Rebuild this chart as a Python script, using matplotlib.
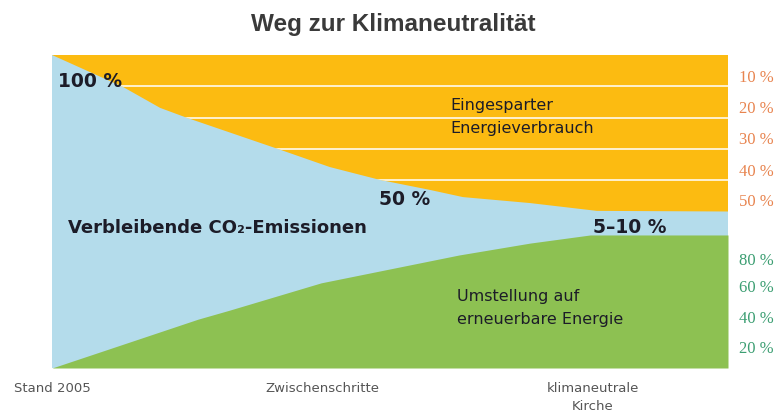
import numpy as np
import matplotlib
matplotlib.use("Agg")
import matplotlib.pyplot as plt
from matplotlib.patches import Polygon

# boundary between saved energy (orange) and remaining emissions (blue)
top_x = [0, 10.5, 16.0, 20.0, 33.4, 41.1, 48.5, 55.9, 60.8, 70.7, 80.6, 100]
top_y = [100, 89.8, 83.1, 79.9, 70.0, 64.2, 60.1, 56.9, 54.6, 52.7, 50.2, 50]

# boundary between renewable energy (green) and remaining emissions (blue)
green_x = [0, 11.5, 21.6, 26.3, 39.8, 60.2, 70.7, 79.6, 100]
green_y = [0, 8.3, 15.6, 18.5, 27.2, 36.1, 39.9, 42.5, 42.5]

saved_levels = [90, 80, 70, 60]
saved_labels = ["10 %", "20 %", "30 %", "40 %", "50 %"]
saved_label_y = [92.7, 82.7, 72.7, 62.7, 53.0]
green_labels = ["80 %", "60 %", "40 %", "20 %"]
green_label_y = [34.2, 25.4, 15.6, 6.0]

steps = ["Stand 2005", "Zwischenschritte", "klimaneutrale\nKirche"]
step_x = [0, 40, 80]

c_orange = "#FCBB11"
c_blue = "#B4DCEB"
c_green = "#8DC152"
c_dark = "#1c1c28"

fig = plt.figure(figsize=(7.78, 4.17), dpi=100)
ax = fig.add_axes([52/778, 49/417, 676/778, 313/417])

ax.fill_between([0, 100], 0, 100, color=c_blue, lw=0)
orange = Polygon(list(zip(top_x, top_y)) + [(100, 100), (0, 100)],
                 closed=True, facecolor=c_orange, edgecolor="none")
ax.add_patch(orange)
ax.fill_between(green_x, 0, green_y, color=c_green, lw=0)

lines = ax.hlines(saved_levels, 0, 100, colors="white", lw=1.3, alpha=0.85)
lines.set_clip_path(orange)

ax.set_xlim(0, 100)
ax.set_ylim(0, 100)
for s in ax.spines.values():
    s.set_visible(False)
ax.set_yticks([])
ax.set_xticks(step_x)
ax.set_xticklabels(steps, family=["Liberation Sans Narrow", "DejaVu Sans"],
                   fontsize=9.5, color="#555555", linespacing=1.5)
ax.tick_params(axis="x", length=0, pad=10)

# right hand percentage scales
for lab, y in zip(saved_labels, saved_label_y):
    ax.text(101.6, y, lab, ha="left", va="center", fontsize=12,
            family="Liberation Serif", color="#E8844F", clip_on=False)
for lab, y in zip(green_labels, green_label_y):
    ax.text(101.6, y, lab, ha="left", va="center", fontsize=12,
            family="Liberation Serif", color="#3C9E72", clip_on=False)

ax.text(0.9, 91.4, "100 %", fontsize=13.5, fontweight="bold", color=c_dark,
        ha="left", va="center")
ax.text(55.9, 53.7, "50 %", fontsize=13.5, fontweight="bold", color=c_dark,
        ha="right", va="center")
ax.text(80.0, 45.0, "5–10 %", fontsize=13.5, fontweight="bold", color=c_dark,
        ha="left", va="center")
ax.text(2.4, 44.7, "Verbleibende CO₂-Emissionen", fontsize=13,
        fontweight="bold", color=c_dark, ha="left", va="center")
ax.text(58.9, 80.2, "Eingesparter\nEnergieverbrauch", fontsize=11.5,
        color=c_dark, ha="left", va="center", linespacing=1.6)
ax.text(59.9, 19.2, "Umstellung auf\nerneuerbare Energie", fontsize=11.5,
        color=c_dark, ha="left", va="center", linespacing=1.6)

fig.text(0.505, 1 - 25/417, "Weg zur Klimaneutralität", ha="center",
         va="center", fontsize=17.5, fontweight="bold", color="#3a3a3a",
         family="Liberation Sans")

fig.savefig("out.png", dpi=100)
